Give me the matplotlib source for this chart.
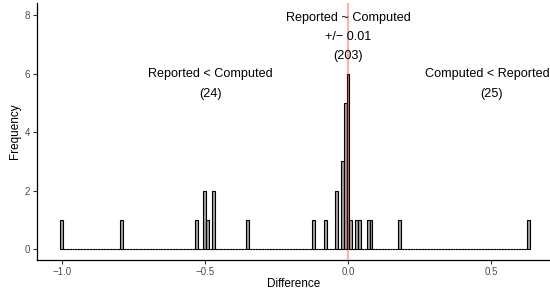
import numpy as np
import matplotlib
matplotlib.use("Agg")
import matplotlib.pyplot as plt

plt.rcParams['font.family'] = ['Liberation Sans', 'DejaVu Sans']

# Histogram data (bin centres with non-zero counts, binwidth 0.01)
bin_width = 0.01
bin_min, bin_max = -1.00, 0.63
nonzero_centers = [-1.00, -0.79, -0.53, -0.50, -0.49, -0.47, -0.35, -0.12, -0.08,
                   -0.04, -0.02, -0.01, 0.00, 0.01, 0.03, 0.04, 0.07, 0.08, 0.18, 0.63]
nonzero_counts = [1, 1, 1, 2, 1, 2, 1, 1, 1,
                  2, 3, 5, 6, 1, 1, 1, 1, 1, 1, 1]

# annotations
ann_texts = ["Reported ~ Computed", "+/\u2212 0.01", "(203)",
             "Reported < Computed", "(24)",
             "Computed < Reported", "(25)"]
ann_x = [0.0, 0.0, 0.0, -0.48, -0.48, 0.485, 0.50]
ann_y = [7.9, 7.25, 6.6, 5.97, 5.3, 5.97, 5.3]

x_ticks = [-1.0, -0.5, 0.0, 0.5]
x_tick_labels = ["\u22121.0", "\u22120.5", "0.0", "0.5"]
y_ticks = [0, 2, 4, 6, 8]

# build the full set of bins
n_bins = int(round((bin_max - bin_min) / bin_width)) + 1
centers = bin_min + bin_width * np.arange(n_bins)
counts = np.zeros(n_bins)
for c, n in zip(nonzero_centers, nonzero_counts):
    idx = int(round((c - bin_min) / bin_width))
    counts[idx] = n

fig = plt.figure(figsize=(5.5, 2.91), dpi=100)
ax = fig.add_axes([0.0667, 0.1065, 0.9333, 0.882])

ax.bar(centers, counts, width=bin_width, color="#a0a0a0", edgecolor="black",
       linewidth=0.8, zorder=2)
ax.axvline(0, color="red", alpha=0.3, linewidth=1.6, zorder=3)

for t, x, y in zip(ann_texts, ann_x, ann_y):
    ax.text(x, y, t, ha="center", va="center", fontsize=9.1, color="black", zorder=4)

ax.set_xlim(-1.087, 0.705)
ax.set_ylim(-0.376, 8.4)
ax.set_xticks(x_ticks)
ax.set_xticklabels(x_tick_labels)
ax.set_yticks(y_ticks)

for side in ["top", "right"]:
    ax.spines[side].set_visible(False)
for side in ["left", "bottom"]:
    ax.spines[side].set_linewidth(0.9)
    ax.spines[side].set_color("black")
ax.tick_params(axis="both", labelsize=7, colors="#4d4d4d", length=3, width=0.8, pad=2)
ax.tick_params(axis="both", which="both", color="#333333")

ax.set_xlabel("Difference", fontsize=8.5, labelpad=1)
ax.set_ylabel("Frequency", fontsize=8.5, labelpad=2)

fig.savefig("out.png", dpi=100)
